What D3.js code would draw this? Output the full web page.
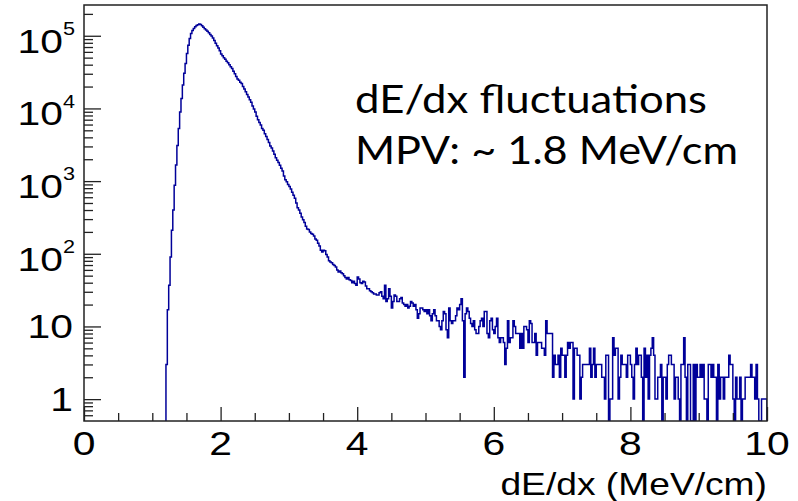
<!DOCTYPE html>
<html>
<head>
<meta charset="utf-8">
<script src="https://cdn.jsdelivr.net/npm/d3@7"></script>
<style>
  body { margin: 0; background: #fff; }
  svg { display: block; }
</style>
</head>
<body>
<svg id="chart" width="798" height="501"></svg>
<script>
// dE/dx histogram, 0.02 MeV/cm bins, first filled bin starts at 1.20
const binStart = 1.2;
const binWidth = 0.02;
const counts = [
  3, 17, 37, 90, 210, 400, 880, 1660, 3100, 5300,
  8900, 13700, 21000, 30500, 41600, 57000, 74000, 92000, 107000, 118000,
  126000, 133000, 138000, 142000, 145000, 143000, 137000, 131000, 125000, 120000,
  115000, 110000, 104000, 99000, 93000, 86000, 79000, 73000, 68000, 62000,
  56000, 53000, 50000, 47500, 44500, 42500, 40000, 37500, 35500, 32500,
  30000, 27500, 25500, 24500, 23000, 22000, 20000, 18500, 17000, 15500,
  14400, 13200, 12200, 10800, 9800, 8900, 7800, 7000, 6400, 5900,
  5300, 5000, 4500, 4100, 3750, 3400, 3050, 2850, 2600, 2350,
  2100, 1940, 1800, 1650, 1500, 1380, 1180, 1040, 980, 900,
  840, 780, 700, 640, 580, 500, 430, 400, 360, 320,
  295, 270, 240, 220, 215, 200, 190, 185, 175, 160,
  154, 140, 128, 112, 106, 112, 110, 98, 90, 80,
  77, 75, 71, 69, 66, 60, 56, 58, 55, 53,
  50, 47, 45, 47, 44, 43, 40, 42, 39, 37,
  48, 45, 40, 39, 42, 41, 36, 33, 33, 31,
  30, 29, 28, 28, 27, 27, 29, 30, 26, 24,
  37, 22, 24, 33, 26, 18, 22, 27, 26, 22,
  22, 24, 25, 21, 20, 19, 20, 18, 19, 22,
  21, 19, 20, 17, 13, 15, 18, 18, 17, 16,
  17, 15, 17, 14, 12, 15, 17, 14, 12, 12,
  10, 9, 12, 16, 15, 9, 7, 18, 12, 11,
  12, 12, 14, 18, 17, 20, 24, 12, 2, 15,
  18, 16, 13, 11, 10, 12, 9, 8, 8, 10,
  12, 13, 10, 16, 16, 8, 7, 12, 13, 9,
  8, 10, 13, 7, 6, 7, 7, 6, 3, 5,
  12, 6, 7, 7, 12, 10, 8, 8, 8, 5,
  8, 5, 10, 10, 9, 6, 12, 11, 6, 6,
  8, 4, 6, 6, 6, 5, 5, 4, 12, 8,
  8, 8, 8, 2, 4, 3, 3, 4, 2, 5,
  4, 4, 2, 4, 6, 5, 6, 6, 1, 5,
  5, 4, 4, 1, 2, 3, 3, 3, 3, 3,
  5, 2, 3, 5, 2, 3, 3, 3, 3, 2,
  2, 1, 4, 4, 0, 1, 1, 7, 4, 5,
  5, 1, 2, 4, 3, 3, 3, 2, 4, 4,
  3, 2, 1, 3, 5, 3, 4, 4, 2, 0,
  5, 2, 4, 1, 4, 5, 7, 4, 1, 1,
  2, 2, 3, 0, 2, 2, 1, 3, 4, 4,
  3, 3, 1, 2, 2, 1, 0, 3, 3, 7,
  2, 0, 3, 3, 0, 0, 3, 0, 3, 2,
  2, 3, 2, 3, 1, 1, 0, 3, 3, 2,
  3, 2, 2, 0, 3, 1, 2, 2, 1, 2,
  2, 2, 4, 3, 3, 1, 0, 2, 1, 1,
  2, 0, 1, 1, 2, 2, 2, 2, 3, 2,
  2, 1, 3, 1, 0, 0, 1, 1, 1, 1
];

const xTicks = [0, 2, 4, 6, 8, 10];
const xTickLabels = ["0", "2", "4", "6", "8", "10"];
const yDecades = [1, 10, 100, 1000, 10000, 100000];
const yTickLabels = ["1", "10", "10^2", "10^3", "10^4", "10^5"];
const xTitle = "dE/dx (MeV/cm)";
const noteLines = ["dE/dx fluctuations", "MPV: ~ 1.8 MeV/cm"];

const svg = d3.select("#chart");
const fLeft = 84, fRight = 767, fTop = 5, fBottom = 421;
const stretch = 1.2; // the original slide is a bit wide

const x = d3.scaleLinear().domain([0, 10]).range([fLeft, fRight]);
const y = d3.scaleLog().domain([0.5, 2.65e5]).range([fBottom, fTop]);

svg.append("rect")
    .attr("width", 798).attr("height", 501).attr("fill", "#fff");

svg.append("clipPath").attr("id", "frame-clip")
  .append("rect")
    .attr("x", fLeft).attr("y", fTop)
    .attr("width", fRight - fLeft).attr("height", fBottom - fTop);

// step outline, empty bins go down to the frame bottom like ROOT does
const pts = [[x(binStart), y(0.5)]];
counts.forEach(function(c, i) {
    const lo = binStart + i * binWidth;
    const yy = y(c > 0.5 ? c : 0.5);
    pts.push([x(lo), yy], [x(lo + binWidth), yy]);
});
pts.push([x(binStart + counts.length * binWidth), y(0.5)]);

svg.append("path")
    .attr("clip-path", "url(#frame-clip)")
    .attr("d", d3.line()(pts))
    .attr("fill", "none")
    .attr("stroke", "#000099")
    .attr("stroke-width", 1.5)
    .attr("stroke-linejoin", "miter");

// x axis, ticks pointing into the frame
const xMinor = d3.range(0, 10.001, 0.5);
const gx = svg.append("g")
    .attr("transform", `translate(0,${fBottom})`)
    .call(d3.axisBottom(x).tickValues(xMinor).tickSize(-8).tickSizeOuter(0).tickFormat(""));
gx.select(".domain").remove();
gx.selectAll(".tick line")
    .attr("y2", d => xTicks.includes(d) ? -14 : -8)
    .attr("stroke", "#222").attr("stroke-width", 1.3);

// log y axis with 2..9 minor ticks
const yAll = [0.6, 0.7, 0.8, 0.9];
yDecades.forEach(function(d) {
    for (let m = 1; m <= 9; m++) {
        if (m * d <= 2.65e5) yAll.push(m * d);
    }
});
const gy = svg.append("g")
    .attr("transform", `translate(${fLeft},0)`)
    .call(d3.axisLeft(y).tickValues(yAll).tickSize(-9).tickSizeOuter(0).tickFormat(""));
gy.select(".domain").remove();
gy.selectAll(".tick line")
    .attr("x2", d => yDecades.includes(d) ? 17 : 9)
    .attr("stroke", "#222").attr("stroke-width", 1.3);

// frame
svg.append("rect")
    .attr("x", fLeft).attr("y", fTop)
    .attr("width", fRight - fLeft).attr("height", fBottom - fTop)
    .attr("fill", "none")
    .attr("stroke", "#222")
    .attr("stroke-width", 1.5);

const labelFont = "'Liberation Sans', Arial, Helvetica, sans-serif";

xTicks.forEach(function(v, i) {
    svg.append("text")
        .attr("transform", `translate(${x(v)},455) scale(${stretch},1)`)
        .attr("text-anchor", "middle")
        .attr("font-family", labelFont)
        .attr("font-size", 34)
        .attr("fill", "#000")
        .text(xTickLabels[i]);
});

yDecades.forEach(function(v, i) {
    const lab = yTickLabels[i];
    const ty = y(v);
    if (lab.indexOf("^") >= 0) {
        const parts = lab.split("^");
        const t = svg.append("text")
            .attr("transform", `translate(75,${ty + 16.8}) scale(${stretch},1)`)
            .attr("text-anchor", "end")
            .attr("font-family", labelFont)
            .attr("fill", "#000");
        t.append("tspan").attr("font-size", 34).text(parts[0]);
        t.append("tspan").attr("font-size", 18).attr("dy", -17.5).text(parts[1]);
    } else {
        svg.append("text")
            .attr("transform", `translate(73,${ty + 11.5}) scale(${stretch},1)`)
            .attr("text-anchor", "end")
            .attr("font-family", labelFont)
            .attr("font-size", 34)
            .attr("fill", "#000")
            .text(lab);
    }
});

svg.append("text")
    .attr("transform", `translate(767,495) scale(${stretch},1)`)
    .attr("text-anchor", "end")
    .attr("font-family", labelFont)
    .attr("font-size", 31)
    .attr("fill", "#000")
    .text(xTitle);

// slide annotation
const noteY = [113.3, 164.3];
const noteW = [352, 383];
noteLines.forEach(function(s, i) {
    svg.append("text")
        .attr("x", 355)
        .attr("y", noteY[i])
        .attr("font-family", "Lato, 'Open Sans', sans-serif")
        .attr("font-size", 39)
        .attr("textLength", noteW[i])
        .attr("lengthAdjust", "spacingAndGlyphs")
        .attr("fill", "#000")
        .text(s);
});
</script>
</body>
</html>
